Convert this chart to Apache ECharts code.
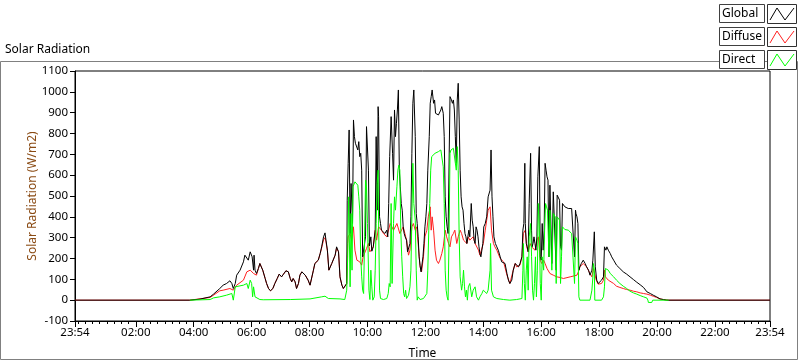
<!DOCTYPE html>
<html><head><meta charset="utf-8">
<script src="https://cdn.jsdelivr.net/npm/echarts@6/dist/echarts.min.js"></script>
<style>html,body{margin:0;padding:0;background:#fff}#c{width:800px;height:361px}</style>
</head><body><div id="c"></div>
<script>
// ---- tick labels (x in minutes since midnight; -6 = 23:54 previous day) ----
const xTickMinutes = [-6, 120, 240, 360, 480, 600, 720, 840, 960, 1080, 1200, 1320, 1434];
const xTickLabels = ['23:54', '02:00', '04:00', '06:00', '08:00', '10:00', '12:00', '14:00', '16:00', '18:00', '20:00', '22:00', '23:54'];
const seriesNames = ['Global', 'Diffuse', 'Direct'];
const seriesColors = ['#000000', '#ff2020', '#00ff00'];

// ---- series values: [minute of day, W/m2] ----
const globalData = [[-6,0],[232,0],[253,5],[274,16],[281,29],[294,56],[301,72],[308,80],[315,93],[319,80],[322,56],[326,80],[329,120],[336,144],[343,184],[346,216],[350,208],[353,192],[357,232],[359,240],[361,208],[364,144],[365,216],[367,144],[370,128],[374,152],[377,176],[379,184],[383,144],[388,104],[391,80],[395,56],[399,45],[404,56],[408,80],[413,104],[417,125],[422,112],[426,125],[431,141],[436,136],
[440,104],[443,88],[446,104],[450,88],[453,56],[457,80],[460,120],[464,136],[467,144],[471,120],[474,120],[477,96],[481,72],[484,80],[488,144],[491,176],[495,184],[498,192],[502,224],[505,256],[509,304],[512,323],[514,288],[517,240],[520,144],[522,136],[526,176],[529,184],[533,216],[536,256],[540,232],[543,112],[547,72],[550,56],[553,64],[557,80],[558,480],[560,657],[562,817],[564,320],[566,560],[569,368],[571,865],[573,785],[575,753],[578,761],[580,721],[582,761],[584,689],[586,705],[588,624],[590,208],[593,210],[596,304],[598,833],[600,841],[602,624],[604,260],[607,304],[609,235],[611,240],[612,256],[616,336],[618,785],[620,432],[622,929],[623,881],[625,400],[627,368],[629,336],[633,336],[636,320],[640,336],[642,304],[644,464],[646,689],
[649,881],[652,705],[654,576],[656,913],[658,785],[660,849],[662,913],[664,1009],[666,624],[668,544],[670,464],[672,432],[674,352],[676,320],[678,304],[681,288],[683,232],[685,224],[688,272],[690,400],[692,705],[694,945],[696,1009],[699,785],[701,416],[703,368],[705,304],[707,208],[709,165],[711,136],[713,144],[715,208],[717,272],[719,352],[721,400],[723,464],[725,624],[728,785],[730,945],[732,977],[734,1009],[737,945],[739,961],[741,897],[743,889],[747,889],[750,897],[752,913],[754,929],[757,897],[759,785],[761,496],[763,400],[765,352],[767,320],[769,320],[771,977],[774,961],[776,945],[778,961],[780,913],[782,785],[784,657],[786,961],[788,1041],[790,865],[792,624],[794,496],[796,448],[798,432],[800,368],[802,320],[804,304],[806,272],[808,304],[810,336],[812,304],[815,464],[817,384],[819,352],[821,288],[823,272],[825,352],[827,336],[829,304],[831,256],[833,224],[835,208],[837,216],[839,272],[841,352],[844,368],[847,400],[850,496],[854,528],
[856,721],[858,496],[860,400],[862,304],[865,272],[868,256],[871,240],[875,208],[878,184],[882,192],[885,176],[889,128],[892,96],[895,80],[899,96],[902,144],[906,176],[909,168],[913,160],[916,176],[920,208],[922,336],[924,368],[926,657],[927,368],[929,272],[931,256],[933,232],[935,464],[938,705],[940,336],[941,256],[943,272],[945,304],[947,272],[949,240],[951,304],[953,592],[956,737],[958,208],[960,192],[962,368],[964,240],[966,336],[968,657],[970,624],[972,592],[974,576],[976,208],[978,552],[980,544],[982,176],[985,520],[989,512],[991,144],[993,504],[996,496],[998,480],[1000,256],[1002,240],[1004,464],[1006,456],[1009,448],[1013,448],[1016,440],[1020,448],[1023,440],[1027,432],[1029,208],[1031,432],[1032,416],[1034,400],[1036,368],[1038,144],[1040,160],[1043,176],[1045,184],[1047,192],[1051,176],[1054,160],[1058,144],[1061,120],
[1065,144],[1067,192],[1070,328],[1072,160],[1075,96],[1078,80],[1082,80],[1085,96],[1089,112],[1091,256],[1092,264],[1094,240],[1096,256],[1099,240],[1103,224],[1106,208],[1110,192],[1116,168],[1123,152],[1130,136],[1137,125],[1144,112],[1151,99],[1158,86],[1165,74],[1172,61],[1179,40],[1186,32],[1192,24],[1199,16],[1206,6],[1213,3],[1220,0],[1434,0]];

const diffuseData = [[-6,0],[232,0],[274,13],[294,45],[301,48],[315,56],[322,48],[329,72],[343,96],[350,136],[353,136],[357,144],[364,128],[370,120],[374,152],[377,176],[379,184],[383,144],[388,104],[391,80],[395,56],[399,45],[404,56],[408,80],[413,104],[417,125],[422,112],[426,125],[431,141],[436,136],[440,104],[443,88],[446,104],[450,88],[453,56],[457,80],[460,120],[464,136],[467,144],[471,120],[474,120],[477,96],[481,72],[484,80],[488,144],[491,176],[495,184],[498,192],[502,224],[505,250],[509,290],[512,300],[514,280],[517,235],[520,144],[522,136],[526,176],[529,184],[533,216],[536,250],[540,232],[543,112],[547,72],[550,56],[553,64],[557,80],[559,272],[560,304],[564,320],[567,288],[571,352],[574,240],[578,192],[581,184],[584,184],[588,168],[591,208],[595,216],[598,248],[602,272],[605,232],[609,232],[612,256],[616,336],[619,288],[623,352],[626,360],[629,336],[633,320],[636,312],[640,304],[643,300],[647,368],[654,336],[661,368],[667,320],[674,352],[681,288],[685,216],[688,240],[692,352],[695,368],[699,336],[702,352],[709,160],[712,136],[716,208],[719,304],[723,336],[726,400],[730,448],[732,336],[734,400],[737,336],[740,240],[743,192],[747,176],[750,192],[754,224],[757,256],[761,336],[764,304],[768,272],[771,256],[774,304],[778,320],[781,336],[785,272],[788,304],[792,336],[795,320],[799,288],[802,296],[806,272],[809,304],[812,288],[819,304],[823,272],[826,264],[830,240],[833,216],[837,208],[840,272],[844,336],[847,384],[850,432],[854,448],[857,336],[861,272],[864,256],[868,240],[875,200],[882,184],[889,120],[895,80],[902,144],[906,176],[909,160],[916,168],[920,208],[923,320],[927,336],[930,256],[933,232],[937,272],[940,256],[944,256],[947,240],[951,288],[954,304],[958,192],[961,176],[965,192],[968,176],[972,152],[975,144],[978,128],[985,120],[992,112],[999,109],[1006,104],[1020,112],[1034,120],[1037,136],[1040,160],[1047,176],[1054,160],[1061,128],[1065,112],[1068,152],[1070,144],[1074,96],[1078,77],[1082,72],[1085,80],[1089,96],[1091,144],[1093,112],[1096,104],[1099,96],[1103,91],[1110,80],[1116,67],[1123,61],[1130,56],[1137,51],[1144,48],[1151,43],[1158,40],[1165,35],[1172,32],[1179,29],[1186,24],[1192,19],[1199,13],[1206,6],[1213,3],[1224,0],[1434,0]];

const directData = [[232,0],[274,3],[281,11],[294,16],[308,24],[319,32],[322,0],[326,64],[343,72],[350,80],[353,56],[357,96],[360,80],[362,16],[364,64],[367,16],[370,8],[377,3],[384,2],[440,3],[481,6],[505,16],[512,19],[519,8],[543,6],[553,3],[557,48],[559,208],[561,496],[562,368],[564,64],[566,416],[568,144],[570,544],[572,552],[574,568],[577,576],[580,552],[582,496],[584,432],[586,208],[588,112],[590,48],[592,32],[594,304],[596,576],[598,544],[600,368],[603,48],[605,3],[607,144],[609,64],[611,0],[614,16],[616,144],[618,368],[620,560],[622,624],[623,384],[625,48],[627,8],[633,3],[640,8],[643,32],[645,80],[647,64],[649,464],[651,80],[654,368],[656,496],[658,432],[661,544],[663,624],[665,648],[667,624],[669,336],[671,208],[673,112],[675,32],[677,16],[679,48],[681,8],[685,24],[688,64],[690,144],[692,400],[694,657],[696,464],[699,384],[701,144],[703,0],[705,16],[709,3],[712,0],[716,8],[719,16],[723,32],[725,144],[727,336],[729,464],[731,624],[733,689],[735,689],[737,697],[740,705],[743,708],[747,713],[750,716],[752,721],[754,713],[757,640],[759,464],[761,144],[763,48],[765,16],[767,0],[769,304],[771,705],[773,721],[775,724],[778,729],[780,733],[782,721],[784,624],[786,737],[788,624],[790,304],[792,112],[795,48],[797,80],[799,144],[801,64],[803,16],[805,48],[807,0],[809,64],[812,80],[816,16],[819,48],[823,64],[826,16],[830,0],[833,16],[837,32],[840,48],[844,40],[847,32],[850,48],[854,144],[855,272],[857,48],[861,16],[868,8],[882,3],[895,0],[909,3],[920,8],[922,144],[923,272],[925,80],[927,0],[929,144],[931,208],[933,48],[935,304],[938,368],[940,208],[942,48],[944,0],[946,80],[948,208],[950,16],[952,144],[954,464],[956,352],[958,80],[960,0],[962,208],[965,144],[967,336],[969,464],[971,448],[973,432],[976,208],[978,432],[980,424],[982,144],[985,416],[989,400],[991,80],[993,400],[996,392],[998,384],[1000,80],[1002,208],[1004,352],[1006,344],[1009,339],[1013,336],[1016,336],[1020,328],[1023,320],[1027,320],[1029,80],[1031,304],[1034,288],[1036,272],[1038,16],[1040,0],[1061,0],[1063,0],[1065,48],[1067,112],[1068,176],[1070,144],[1071,0],[1085,0],[1089,16],[1091,64],[1093,152],[1096,152],[1099,144],[1103,128],[1110,112],[1116,96],[1123,80],[1130,67],[1137,56],[1144,43],[1151,35],[1158,29],[1165,22],[1172,16],[1179,10],[1181,0],[1182,-11],[1189,-11],[1191,0],[1224,0]];

const FONT = '"Noto Sans", "DejaVu Sans", sans-serif';
const minorTicks = [];
for (let m = 0; m < 1434; m += 15) minorTicks.push(m);

function fmtX(v) {
  const i = xTickMinutes.indexOf(Math.round(v));
  return i >= 0 ? xTickLabels[i] : '';
}
function fmtY(v) { return String(v); }

// legend drawn as LabVIEW-style boxes
const legendGraphics = [];
seriesNames.forEach(function (name, i) {
  const top = 4 + i * 23;
  legendGraphics.push({
    type: 'rect', z: 100, shape: { x: 719.5, y: top + 0.5, width: 45, height: 18 },
    style: { fill: '#fff', stroke: '#404040', lineWidth: 1 }
  });
  legendGraphics.push({
    type: 'text', z: 101, x: 722, y: top + 10,
    style: { text: name, fill: '#000', font: '12px ' + FONT, verticalAlign: 'middle', textVerticalAlign: 'middle' }
  });
  legendGraphics.push({
    type: 'rect', z: 100, shape: { x: 767.5, y: top + 0.5, width: 29, height: 19 },
    style: { fill: '#fff', stroke: '#303030', lineWidth: 1 }
  });
  legendGraphics.push({
    type: 'polyline', z: 101,
    shape: { points: [[770, top + 16], [777, top + 4], [785, top + 16], [794, top + 4]] },
    style: { stroke: seriesColors[i], lineWidth: 1, fill: null }
  });
});

const chart = echarts.init(document.getElementById('c'), null, { renderer: 'canvas' });
chart.setOption({
  animation: false,
  backgroundColor: '#fff',
  textStyle: { fontFamily: FONT },
  grid: { left: 75, right: 30, top: 71, bottom: 40, show: true, borderColor: '#000', borderWidth: 1, backgroundColor: '#fff', containLabel: false, outerBoundsMode: 'none' },
  xAxis: [{
    type: 'value', min: -6, max: 1434, position: 'bottom',
    axisLine: { show: true, onZero: false, lineStyle: { color: '#000', width: 1 } },
    splitLine: { show: false },
    axisTick: { show: true, customValues: xTickMinutes, length: 6, lineStyle: { color: '#000' } },
    axisLabel: { customValues: xTickMinutes, formatter: fmtX, color: '#000', fontFamily: FONT, fontSize: 11.5, margin: 6, showMinLabel: true, showMaxLabel: true, hideOverlap: false },
    name: 'Time', nameLocation: 'middle', nameGap: 27, nameMoveOverlap: false,
    nameTextStyle: { color: '#000', fontFamily: FONT, fontSize: 12 }
  }, {
    type: 'value', min: -6, max: 1434, position: 'bottom',
    axisLine: { show: false, onZero: false },
    splitLine: { show: false },
    axisTick: { show: true, customValues: minorTicks, length: 3, lineStyle: { color: '#000' } },
    axisLabel: { show: false }
  }],
  yAxis: {
    type: 'value', min: -100, max: 1100, interval: 100,
    axisLine: { show: true, onZero: false, lineStyle: { color: '#000', width: 1 } },
    splitLine: { show: false },
    axisTick: { show: true, length: 5, lineStyle: { color: '#000' } },
    axisLabel: { color: '#000', fontFamily: FONT, fontSize: 11.5, margin: 7, formatter: fmtY },
    name: 'Solar Radiation (W/m2)', nameLocation: 'middle', nameGap: 36, nameRotate: 90, nameMoveOverlap: false,
    nameTextStyle: { color: '#8a4b14', fontFamily: FONT, fontSize: 12 }
  },
  series: [
    { name: 'Diffuse', type: 'line', data: diffuseData, showSymbol: false, symbol: 'none', lineStyle: { color: seriesColors[1], width: 1 }, itemStyle: { color: seriesColors[1] }, z: 2 },
    { name: 'Global', type: 'line', data: globalData, showSymbol: false, symbol: 'none', lineStyle: { color: seriesColors[0], width: 1 }, itemStyle: { color: seriesColors[0] }, z: 3 },
    { name: 'Direct', type: 'line', data: directData, showSymbol: false, symbol: 'none', lineStyle: { color: seriesColors[2], width: 1 }, itemStyle: { color: seriesColors[2] }, z: 4 }
  ],
  graphic: [
    { type: 'rect', z: -10, silent: true, shape: { x: 0.5, y: 61.5, width: 797, height: 298 }, style: { fill: null, stroke: '#808080', lineWidth: 1 } },
    { type: 'text', z: 10, x: 5, y: 50, style: { text: 'Solar Radiation', fill: '#000', font: '12px ' + FONT, verticalAlign: 'middle', textVerticalAlign: 'middle' } }
  ].concat(legendGraphics)
});
</script>
</body></html>
